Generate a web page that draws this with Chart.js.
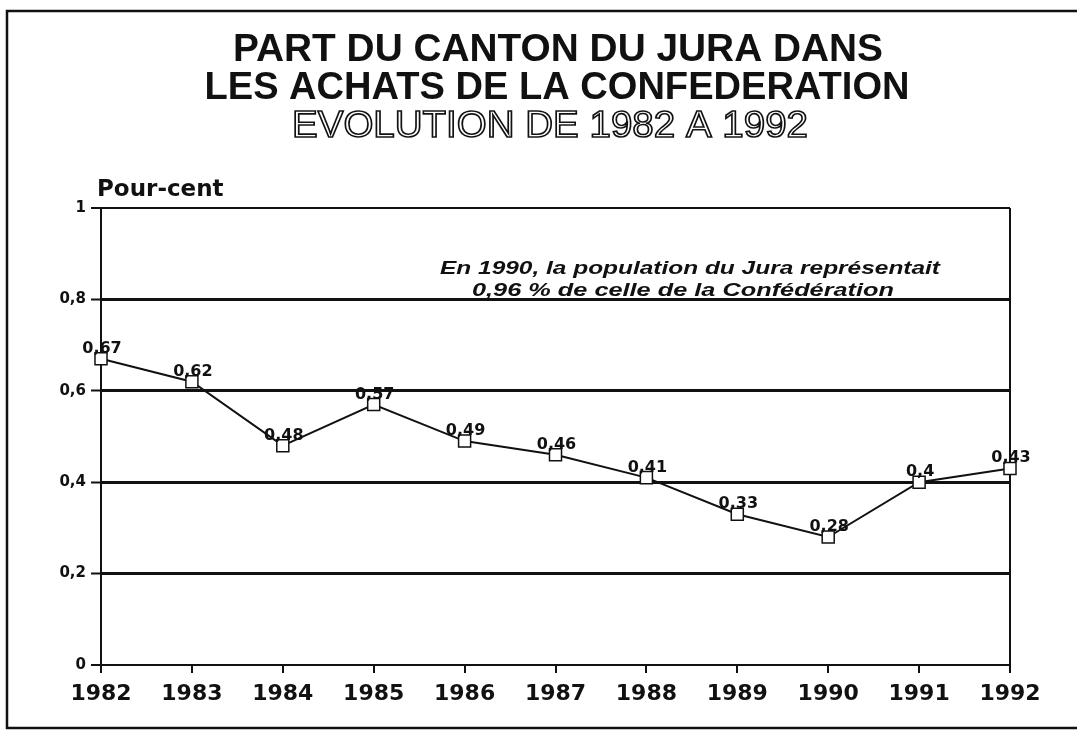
<!DOCTYPE html>
<html lang="fr">
  <head>
    <meta charset="UTF-8" />
    <title>Part du canton du Jura dans les achats de la Confédération</title>
    <script src="https://cdn.jsdelivr.net/npm/chart.js"></script>
    <style>
      body { margin: 0; background: #fff; }
      canvas { display: block; }
    </style>
  </head>
  <body>
    <canvas id="chart" width="1077" height="730"></canvas>
    <script>
      // données
      const years = ["1982", "1983", "1984", "1985", "1986", "1987", "1988", "1989", "1990", "1991", "1992"];
      const shares = [0.67, 0.62, 0.48, 0.57, 0.49, 0.46, 0.41, 0.33, 0.28, 0.4, 0.43];
      const shareLabels = ["0,67", "0,62", "0,48", "0,57", "0,49", "0,46", "0,41", "0,33", "0,28", "0,4", "0,43"];
      const yTickLabels = ["0", "0,2", "0,4", "0,6", "0,8", "1"];

      const titleLines = ["PART DU CANTON DU JURA DANS", "LES ACHATS DE LA CONFEDERATION"];
      const subTitle = "EVOLUTION DE 1982 A 1992";
      const noteLines = ["En 1990, la population du Jura représentait", "0,96 % de celle de la Confédération"];

      // texte étiré pour tenir dans une largeur donnée
      function fitText(ctx, text, font, cx, y, width, outline) {
        ctx.save();
        ctx.font = font;
        const w = ctx.measureText(text).width;
        ctx.translate(cx, y);
        ctx.scale(width / w, 1);
        ctx.textAlign = "center";
        ctx.textBaseline = "alphabetic";
        if (outline) {
          ctx.lineWidth = 1.6;
          ctx.strokeStyle = "#111";
          ctx.strokeText(text, 0, 0);
        } else {
          ctx.fillStyle = "#111";
          ctx.fillText(text, 0, 0);
        }
        ctx.restore();
      }

      const decor = {
        id: "decor",
        afterDraw(chart) {
          const ctx = chart.ctx;
          // cadre
          ctx.save();
          ctx.strokeStyle = "#111";
          ctx.lineWidth = 2.5;
          ctx.beginPath();
          ctx.moveTo(1077, 11);
          ctx.lineTo(7, 11);
          ctx.lineTo(7, 728);
          ctx.lineTo(1077, 728);
          ctx.stroke();
          ctx.restore();

          fitText(ctx, titleLines[0], "bold 38px 'Liberation Sans'", 558, 61, 650);
          fitText(ctx, titleLines[1], "bold 38px 'Liberation Sans'", 557, 99, 705);
          fitText(ctx, subTitle, "36px 'Liberation Sans'", 550, 137, 516, true);

          ctx.save();
          ctx.fillStyle = "#111";
          ctx.font = "bold 23px 'DejaVu Sans'";
          ctx.textAlign = "left";
          ctx.fillText("Pour-cent", 97, 196);
          ctx.restore();

          fitText(ctx, noteLines[0], "italic bold 19px 'Liberation Sans'", 690, 274, 500);
          fitText(ctx, noteLines[1], "italic bold 19px 'Liberation Sans'", 683, 296, 422);

          // étiquettes des points
          const meta = chart.getDatasetMeta(0);
          ctx.save();
          ctx.fillStyle = "#111";
          ctx.font = "bold 16px 'DejaVu Sans'";
          ctx.textAlign = "center";
          meta.data.forEach((pt, i) => {
            ctx.fillText(shareLabels[i], pt.x + 1, pt.y - 6);
          });
          ctx.restore();
        },
      };

      const last = years.length - 1;
      const ctx = document.getElementById("chart").getContext("2d");
      new Chart(ctx, {
        type: "line",
        data: {
          labels: years,
          datasets: [
            {
              data: shares,
              borderColor: "#111",
              borderWidth: 2,
              pointStyle: "rect",
              pointRadius: 8.5,
              pointBorderWidth: 1.5,
              pointBorderColor: "#111",
              pointBackgroundColor: "#fff",
              tension: 0,
            },
          ],
        },
        options: {
          responsive: false,
          animation: false,
          devicePixelRatio: 1,
          layout: { padding: { left: 0, top: 208, right: 67, bottom: 0 } },
          plugins: { legend: { display: false }, tooltip: { enabled: false } },
          scales: {
            x: {
              offset: false,
              afterFit: (s) => { s.height = 65; },
              border: { display: true, color: "#111", width: 2 },
              grid: {
                color: (c) => (c.index === last ? "#111" : "rgba(0,0,0,0)"),
                lineWidth: 2,
                tickColor: "#111",
                tickLength: 8,
                tickWidth: 2,
              },
              ticks: {
                color: "#111",
                font: { family: "DejaVu Sans", weight: "bold", size: 22 },
                padding: 8,
                maxRotation: 0,
                autoSkip: false,
              },
            },
            y: {
              min: 0,
              max: 1,
              afterFit: (s) => { s.width = 101; },
              border: { display: true, color: "#111", width: 2 },
              grid: {
                color: "#111",
                lineWidth: (c) => (c.tick && c.tick.value > 0 && c.tick.value < 1 ? 3 : 2),
                tickColor: "#111",
                tickLength: 10,
                tickWidth: 2,
              },
              ticks: {
                stepSize: 0.2,
                color: "#111",
                font: { family: "DejaVu Sans", weight: "bold", size: 15 },
                padding: 5,
                callback: (v, i) => yTickLabels[i],
              },
            },
          },
        },
        plugins: [decor],
      });
    </script>
  </body>
</html>
